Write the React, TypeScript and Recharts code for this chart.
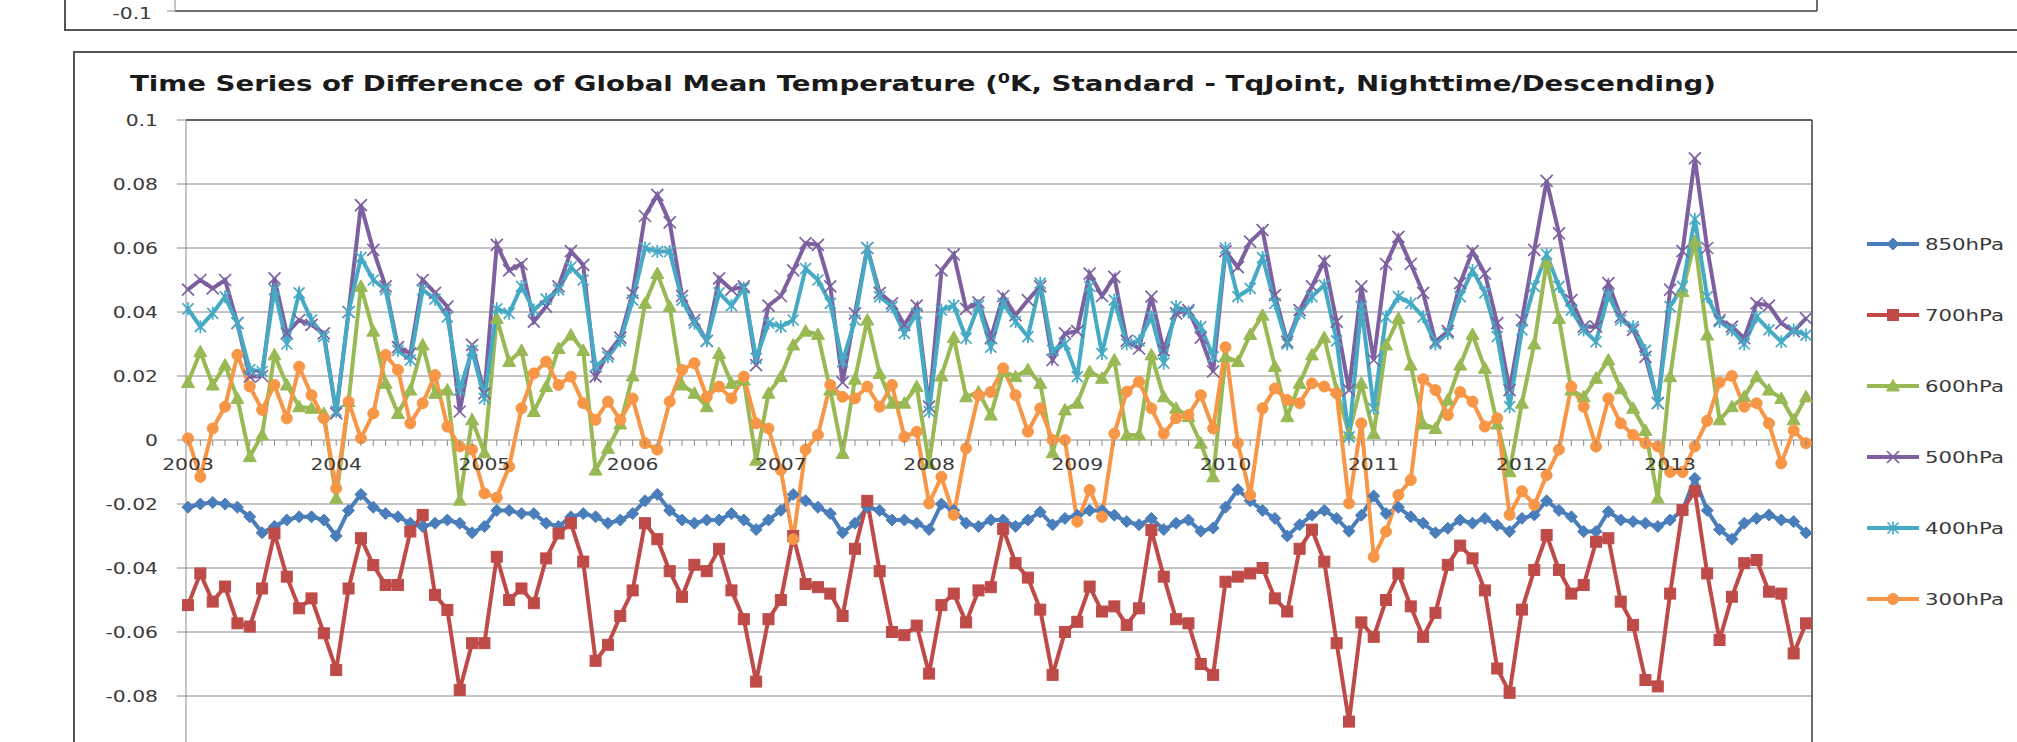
import React from "react";
import { LineChart, Line, XAxis, YAxis, CartesianGrid, Legend } from "recharts";

// ---------- data ----------
const years = ["2003", "2004", "2005", "2006", "2007", "2008", "2009", "2010", "2011", "2012", "2013"];
const monthNums = ["01", "02", "03", "04", "05", "06", "07", "08", "09", "10", "11", "12"];
const months = years.flatMap((y) => monthNums.map((m) => `${y}-${m}`));

const yTicks = [0.1, 0.08, 0.06, 0.04, 0.02, 0, -0.02, -0.04, -0.06, -0.08];
const topYTicks = [-0.1];

const seriesNames = ["850hPa", "700hPa", "600hPa", "500hPa", "400hPa", "300hPa"];

const t850 = [
  -0.021, -0.02, -0.0195, -0.02, -0.021, -0.024, -0.029, -0.027, -0.025, -0.024, -0.024, -0.025,
  -0.03, -0.022, -0.017, -0.021, -0.023, -0.024, -0.026, -0.027, -0.026, -0.025, -0.026, -0.029,
  -0.027, -0.022, -0.022, -0.023, -0.023, -0.026, -0.027, -0.024, -0.023, -0.024, -0.026, -0.025,
  -0.023, -0.019, -0.017, -0.022, -0.025, -0.026, -0.025, -0.025, -0.023, -0.025, -0.028, -0.025,
  -0.022, -0.017, -0.019, -0.021, -0.023, -0.029, -0.026, -0.021, -0.022, -0.025, -0.025, -0.026,
  -0.028, -0.02, -0.022, -0.026, -0.027, -0.025, -0.025, -0.027, -0.025, -0.0225, -0.0265, -0.0245,
  -0.0235, -0.022, -0.022, -0.0235, -0.0255, -0.0265, -0.0245, -0.028, -0.026, -0.025, -0.0285, -0.0275,
  -0.021, -0.0155, -0.019, -0.022, -0.0245, -0.03, -0.0265, -0.0235, -0.022, -0.0245, -0.0285, -0.0235,
  -0.0175, -0.023, -0.021, -0.024, -0.026, -0.029, -0.0276, -0.025, -0.026, -0.0245, -0.0266, -0.0286,
  -0.0245, -0.0234, -0.019, -0.022, -0.024, -0.0286, -0.0286, -0.0224, -0.025, -0.0255, -0.026, -0.027,
  -0.025, -0.022, -0.012, -0.022, -0.028, -0.031, -0.026, -0.0245, -0.0234, -0.025, -0.0255, -0.029,
];

const t700 = [
  -0.0516, -0.0417, -0.0505, -0.0458, -0.0573, -0.0583, -0.0464, -0.0292, -0.0427, -0.0526, -0.0495, -0.0604,
  -0.0719, -0.0464, -0.0307, -0.0391, -0.0453, -0.0453, -0.0286, -0.0234, -0.0484, -0.0531, -0.0781, -0.0635,
  -0.0635, -0.0365, -0.05, -0.0464, -0.051, -0.037, -0.0292, -0.026, -0.038, -0.069, -0.064, -0.055,
  -0.047, -0.026, -0.031, -0.041, -0.049, -0.039, -0.041, -0.034, -0.047, -0.056, -0.0755, -0.056,
  -0.05, -0.03, -0.045, -0.046, -0.048, -0.055, -0.034, -0.019, -0.041, -0.06, -0.061, -0.058,
  -0.073, -0.0516, -0.048, -0.057, -0.047, -0.046, -0.0278, -0.0385, -0.043, -0.053, -0.0734, -0.06,
  -0.0568, -0.0458, -0.0536, -0.052, -0.0578, -0.0526, -0.0281, -0.0427, -0.056, -0.0573, -0.07, -0.0734,
  -0.0443, -0.0427, -0.0417, -0.04, -0.0495, -0.0536, -0.034, -0.028, -0.038, -0.0635, -0.088, -0.057,
  -0.0615, -0.05, -0.0417, -0.052, -0.0615, -0.054, -0.039, -0.033, -0.037, -0.047, -0.0714, -0.079,
  -0.053, -0.0406, -0.0297, -0.0406, -0.048, -0.0453, -0.0318, -0.0307, -0.0505, -0.0578, -0.075, -0.077,
  -0.048, -0.0219, -0.016, -0.0417, -0.0625, -0.049, -0.0385, -0.0375, -0.0474, -0.048, -0.0667, -0.0573,
];

const t600 = [
  0.018, 0.0276, 0.0172, 0.0234, 0.013, -0.0052, 0.0016, 0.0266, 0.0172, 0.0104, 0.0099, 0.0083,
  -0.0182, 0.012, 0.048, 0.034, 0.0177, 0.0083, 0.0156, 0.0297, 0.0146, 0.0156, -0.0188, 0.0063,
  -0.004, 0.038, 0.0245, 0.028, 0.0089, 0.0167, 0.0286, 0.0328, 0.028, -0.0094, -0.0026, 0.005,
  0.02, 0.0427, 0.052, 0.0417, 0.0172, 0.0146, 0.0104, 0.027, 0.0177, 0.0187, -0.0063, 0.0146,
  0.0198, 0.0297, 0.034, 0.033, 0.0156, -0.0042, 0.019, 0.0375, 0.0208, 0.0115, 0.0115, 0.0167,
  -0.0073, 0.02, 0.032, 0.0135, 0.015, 0.0078, 0.0214, 0.0198, 0.022, 0.0177, -0.004, 0.0094,
  0.0115, 0.0214, 0.0193, 0.025, 0.0016, 0.0016, 0.0266, 0.0135, 0.0099, 0.0073, -0.001, -0.0115,
  0.026, 0.0245, 0.033, 0.039, 0.023, 0.0073, 0.0177, 0.0266, 0.032, 0.0156, 0.002, 0.0177,
  0.002, 0.0297, 0.038, 0.0234, 0.005, 0.0036, 0.0125, 0.0234, 0.033, 0.0224, 0.005, -0.0099,
  0.0115, 0.03, 0.0555, 0.038, 0.0156, 0.0135, 0.0193, 0.025, 0.016, 0.0099, 0.003, -0.0182,
  0.0198, 0.0464, 0.062, 0.0328, 0.0063, 0.0104, 0.0135, 0.0198, 0.0156, 0.013, 0.0063, 0.0135,
];

const t500 = [
  0.047, 0.05, 0.0474, 0.05, 0.0365, 0.0198, 0.02, 0.0505, 0.0333, 0.0375, 0.036, 0.0333,
  0.0083, 0.04, 0.0734, 0.0594, 0.048, 0.029, 0.027, 0.05, 0.046, 0.0417, 0.0089, 0.0297,
  0.0146, 0.061, 0.053, 0.055, 0.037, 0.0417, 0.048, 0.059, 0.0547, 0.0198, 0.027, 0.032,
  0.046, 0.07, 0.0766, 0.068, 0.045, 0.0375, 0.031, 0.0505, 0.047, 0.048, 0.0234, 0.042,
  0.045, 0.053, 0.0615, 0.061, 0.048, 0.018, 0.0396, 0.06, 0.046, 0.0427, 0.036, 0.042,
  0.0104, 0.053, 0.058, 0.041, 0.043, 0.0318, 0.045, 0.039, 0.0437, 0.048, 0.025, 0.0333,
  0.034, 0.052, 0.045, 0.051, 0.031, 0.0286, 0.0448, 0.028, 0.0396, 0.0406, 0.032, 0.0214,
  0.059, 0.054, 0.062, 0.0656, 0.0453, 0.0307, 0.0406, 0.048, 0.056, 0.037, 0.0156, 0.048,
  0.025, 0.055, 0.0635, 0.055, 0.046, 0.0307, 0.034, 0.049, 0.059, 0.052, 0.0365, 0.0156,
  0.0375, 0.0594, 0.081, 0.0646, 0.0437, 0.0354, 0.0354, 0.049, 0.0385, 0.0344, 0.026, 0.0115,
  0.047, 0.059, 0.088, 0.06, 0.0375, 0.0354, 0.0318, 0.0427, 0.042, 0.0365, 0.034, 0.038,
];

const t400 = [
  0.041, 0.0354, 0.0396, 0.0448, 0.0365, 0.022, 0.0214, 0.047, 0.03, 0.046, 0.0375, 0.0323,
  0.009, 0.04, 0.057, 0.05, 0.047, 0.028, 0.025, 0.047, 0.044, 0.0385, 0.0156, 0.028,
  0.013, 0.041, 0.0396, 0.048, 0.0406, 0.044, 0.047, 0.054, 0.05, 0.023, 0.026, 0.031,
  0.0437, 0.06, 0.0589, 0.0589, 0.0437, 0.0365, 0.031, 0.046, 0.042, 0.0474, 0.0255, 0.0365,
  0.0354, 0.0375, 0.0536, 0.05, 0.0427, 0.0245, 0.0375, 0.06, 0.0448, 0.0417, 0.0333, 0.0396,
  0.0089, 0.0406, 0.042, 0.0318, 0.042, 0.029, 0.0427, 0.037, 0.0323, 0.049, 0.028, 0.03,
  0.0198, 0.048, 0.027, 0.0437, 0.03, 0.031, 0.0385, 0.024, 0.0417, 0.04, 0.0354, 0.026,
  0.06, 0.0448, 0.0474, 0.057, 0.0427, 0.03, 0.0396, 0.0448, 0.0484, 0.031, 0.001, 0.0417,
  0.0099, 0.0385, 0.0448, 0.0427, 0.0385, 0.03, 0.0333, 0.0448, 0.053, 0.046, 0.0323, 0.0104,
  0.0344, 0.048, 0.058, 0.048, 0.0406, 0.0344, 0.0307, 0.0453, 0.0375, 0.0354, 0.028, 0.0115,
  0.0417, 0.048, 0.069, 0.0448, 0.037, 0.0344, 0.03, 0.0385, 0.0344, 0.0307, 0.0344, 0.0328,
];

const t300 = [
  0.0005, -0.0115, 0.0036, 0.0104, 0.0266, 0.0167, 0.0094, 0.0172, 0.0068, 0.0229, 0.014, 0.0068,
  -0.0151, 0.012, 0.0005, 0.0083, 0.0266, 0.0219, 0.0052, 0.0115, 0.0203, 0.0042, -0.002, -0.003,
  -0.0167, -0.018, -0.0083, 0.0099, 0.0208, 0.0245, 0.0172, 0.0198, 0.0115, 0.0063, 0.012, 0.0063,
  0.013, -0.001, -0.003, 0.012, 0.0219, 0.024, 0.0135, 0.0167, 0.013, 0.0198, 0.0052, 0.0036,
  -0.0094, -0.031, -0.003, 0.0016, 0.0172, 0.0135, 0.013, 0.0167, 0.0104, 0.0172, 0.001, 0.0026,
  -0.0198, -0.0115, -0.0234, -0.0026, 0.014, 0.015, 0.0224, 0.014, 0.0026, 0.0099, 0.0, 0.0,
  -0.0255, -0.0156, -0.024, 0.002, 0.0151, 0.0182, 0.0099, 0.002, 0.0068, 0.0078, 0.014, 0.0036,
  0.029, -0.001, -0.0172, 0.0099, 0.0161, 0.0125, 0.0115, 0.0177, 0.0167, 0.0146, -0.0198, 0.0052,
  -0.0365, -0.0286, -0.0172, -0.0125, 0.019, 0.0156, 0.0078, 0.015, 0.012, 0.0042, 0.0068, -0.0234,
  -0.016, -0.0203, -0.011, -0.003, 0.0167, 0.0104, -0.002, 0.013, 0.0052, 0.0016, -0.001, -0.002,
  -0.01, -0.01, -0.002, 0.006, 0.018, 0.02, 0.0104, 0.0115, 0.0052, -0.0073, 0.003, -0.001,
];

const seriesValues = [t850, t700, t600, t500, t400, t300];
const seriesColors = ["#4A7EBB", "#BE4B48", "#98B954", "#7D60A0", "#46AAC5", "#F79646"];
const seriesMarkers = ["diamond", "square", "triangle", "x", "star", "circle"];

const data = months.map((m, i) => {
  const row: Record<string, any> = { month: m };
  seriesNames.forEach((n, k) => {
    row[n] = seriesValues[k][i];
  });
  return row;
});

// ---------- styling ----------
const FONT = "'DejaVu Sans', 'Open Sans', sans-serif";
const TEXT_COLOR = "#3a3a3a";
const GRID_COLOR = "#8a8a8a";
const BORDER_COLOR = "#3f3f3f";
const STRETCH = 1.27;
const LINE_W = 4;

const MAIN_W = 2017;
const MAIN_H = 800;
const MAIN_MARGIN = { top: 120, right: 205, bottom: 0, left: 0 };
const X_AXIS_H = 40;
const PLOT_TOP = MAIN_MARGIN.top;
const PLOT_BOTTOM = MAIN_H - MAIN_MARGIN.bottom - X_AXIS_H;
const ZERO_Y = PLOT_TOP + (PLOT_BOTTOM - PLOT_TOP) / 2;

const TOP_H = 300;
const TOP_MARGIN = { top: 20, right: 200, bottom: 24, left: 0 };

const fmt = (v: number) => {
  const s = String(Number(v.toFixed(2)));
  return s === "-0" ? "0" : s;
};

function Marker({ shape, cx, cy, color, size = 1 }: any) {
  if (cx == null || cy == null || isNaN(cx) || isNaN(cy)) return <g />;
  const s = size;
  switch (shape) {
    case "diamond":
      return (
        <polygon
          points={`${cx},${cy - 6 * s} ${cx + 6 * s},${cy} ${cx},${cy + 6 * s} ${cx - 6 * s},${cy}`}
          fill={color}
          stroke={color}
          strokeWidth={1}
        />
      );
    case "square":
      return <rect x={cx - 5.5 * s} y={cy - 5.5 * s} width={11 * s} height={11 * s} fill={color} stroke={color} strokeWidth={1} />;
    case "triangle":
      return (
        <polygon
          points={`${cx},${cy - 6.5 * s} ${cx + 6.5 * s},${cy + 5 * s} ${cx - 6.5 * s},${cy + 5 * s}`}
          fill={color}
          stroke={color}
          strokeWidth={1}
        />
      );
    case "x":
      return (
        <path
          d={`M${cx - 6 * s},${cy - 6 * s}L${cx + 6 * s},${cy + 6 * s}M${cx - 6 * s},${cy + 6 * s}L${cx + 6 * s},${cy - 6 * s}`}
          stroke={color}
          strokeWidth={1.7}
          fill="none"
        />
      );
    case "star":
      return (
        <path
          d={`M${cx - 5.5 * s},${cy - 5.5 * s}L${cx + 5.5 * s},${cy + 5.5 * s}M${cx - 5.5 * s},${cy + 5.5 * s}L${cx + 5.5 * s},${cy - 5.5 * s}M${cx},${cy - 6.5 * s}L${cx},${cy + 6.5 * s}`}
          stroke={color}
          strokeWidth={1.7}
          fill="none"
        />
      );
    default:
      return <circle cx={cx} cy={cy} r={5.5 * s} fill={color} stroke={color} strokeWidth={1} />;
  }
}

const makeDot = (shape: string, color: string) => (props: any) =>
  <Marker key={`dot-${shape}-${props.index}`} shape={shape} cx={props.cx} cy={props.cy} color={color} />;

function StretchText({ x, y, anchor, children, size = 16, weight = "normal" }: any) {
  return (
    <text
      transform={`translate(${x} ${y}) scale(${STRETCH} 1)`}
      textAnchor={anchor}
      fontFamily={FONT}
      fontSize={size}
      fontWeight={weight}
      fill={TEXT_COLOR}
    >
      {children}
    </text>
  );
}

const renderYTick = (props: any) => {
  const { x, y, payload } = props;
  return (
    <StretchText x={x} y={y + 6} anchor="end">
      {fmt(payload.value)}
    </StretchText>
  );
};

const renderTopYTick = (props: any) => {
  const { x, y, payload } = props;
  return (
    <StretchText x={x} y={y + 8} anchor="end">
      {fmt(payload.value)}
    </StretchText>
  );
};

const renderXTick = (props: any) => {
  const { x, payload } = props;
  const label: string = payload.value;
  const isYear = label.endsWith("-01");
  return (
    <g>
      <line x1={x} x2={x} y1={ZERO_Y} y2={ZERO_Y + 6} stroke={GRID_COLOR} strokeWidth={1} />
      {isYear ? (
        <StretchText x={x} y={ZERO_Y + 30} anchor="middle">
          {label.slice(0, 4)}
        </StretchText>
      ) : null}
    </g>
  );
};

const renderLegend = (props: any) => {
  const payload = [...(props.payload || [])].sort(
    (a: any, b: any) => seriesNames.indexOf(a.value) - seriesNames.indexOf(b.value)
  );
  return (
    <div style={{ display: "flex", flexDirection: "column" }}>
      {payload.map((entry: any) => {
        const k = seriesNames.indexOf(entry.value);
        if (k < 0) return null;
        const color = seriesColors[k];
        return (
          <div key={entry.value} style={{ height: 71, display: "flex", alignItems: "center" }}>
            <svg width={58} height={20} style={{ display: "block" }}>
              <line x1={2} x2={54} y1={10} y2={10} stroke={color} strokeWidth={LINE_W} />
              <Marker shape={seriesMarkers[k]} cx={28} cy={10} color={color} />
            </svg>
            <span
              style={{
                fontFamily: FONT,
                fontSize: 16,
                color: TEXT_COLOR,
                marginLeft: 2,
                display: "inline-block",
                transform: "scaleX(1.33)",
                transformOrigin: "left center",
                whiteSpace: "nowrap",
              }}
            >
              {entry.value}
            </span>
          </div>
        );
      })}
    </div>
  );
};

export default function App() {
  return (
    <div
      style={{
        position: "absolute",
        left: 0,
        top: 0,
        width: 2017,
        height: 742,
        overflow: "hidden",
        background: "#ffffff",
      }}
    >
      {/* remnant of the chart above: its frame and the bottom of its plot */}
      <div
        style={{
          position: "absolute",
          left: 64,
          top: -12,
          width: 2100,
          height: 42.5,
          boxSizing: "border-box",
          border: "2px solid #555555",
        }}
      />
      <div style={{ position: "absolute", left: 0, top: 11 - (TOP_H - TOP_MARGIN.bottom) }}>
        <LineChart width={2017} height={TOP_H} data={data} margin={TOP_MARGIN}>
          <XAxis dataKey="month" hide />
          <YAxis
            type="number"
            domain={[-0.1, 0.1]}
            allowDataOverflow
            ticks={topYTicks}
            interval={0}
            width={175}
            tickSize={8}
            tickMargin={15}
            tick={renderTopYTick}
            axisLine={{ stroke: GRID_COLOR }}
            tickLine={{ stroke: GRID_COLOR }}
          />
          <CartesianGrid
            stroke={BORDER_COLOR}
            strokeWidth={1.5}
            horizontalCoordinatesGenerator={({ offset }: any) => [offset.top + offset.height]}
            verticalCoordinatesGenerator={({ offset }: any) => [offset.left + offset.width]}
          />
          {/* the upper chart's series lie above the visible strip; an empty key keeps its axes registered */}
          <Line
            dataKey="upperChartHidden"
            stroke="none"
            dot={false}
            activeDot={false}
            legendType="none"
            isAnimationActive={false}
          />
        </LineChart>
      </div>

      {/* frame of this chart */}
      <div
        style={{
          position: "absolute",
          left: 73,
          top: 51,
          width: 2100,
          height: 800,
          boxSizing: "border-box",
          border: "2px solid #555555",
        }}
      />

      {/* title */}
      <svg style={{ position: "absolute", left: 0, top: 0 }} width={2017} height={110}>
        <text
          x={130}
          y={91}
          fontFamily={FONT}
          fontWeight="bold"
          fontSize={22}
          fill="#1a1a1a"
          textLength={1586}
          lengthAdjust="spacingAndGlyphs"
        >
          Time Series of Difference of Global Mean Temperature (
          <tspan dy={-8} fontSize={14}>
            0
          </tspan>
          <tspan dy={8}>K, Standard - TqJoint, Nighttime/Descending)</tspan>
        </text>
      </svg>

      <div style={{ position: "absolute", left: 0, top: 0 }}>
        <LineChart width={MAIN_W} height={MAIN_H} data={data} margin={MAIN_MARGIN}>
          <CartesianGrid vertical={false} stroke={GRID_COLOR} strokeWidth={1} />
          <CartesianGrid
            stroke={BORDER_COLOR}
            strokeWidth={1.5}
            horizontalCoordinatesGenerator={({ offset }: any) => [offset.top]}
            verticalCoordinatesGenerator={({ offset }: any) => [offset.left + offset.width]}
          />
          <XAxis
            dataKey="month"
            interval={0}
            height={X_AXIS_H}
            tick={renderXTick}
            tickLine={false}
            axisLine={false}
            padding={{ left: 2, right: 6 }}
          />
          <YAxis
            type="number"
            domain={[-0.1, 0.1]}
            ticks={yTicks}
            interval={0}
            width={186}
            tickSize={9}
            tickMargin={19}
            tick={renderYTick}
            axisLine={{ stroke: GRID_COLOR }}
            tickLine={{ stroke: GRID_COLOR }}
          />
          <Legend
            layout="vertical"
            align="center"
            verticalAlign="middle"
            content={renderLegend}
            wrapperStyle={{ position: "absolute", left: 1865, top: 208.5, width: 160 }}
          />
          {seriesNames.map((n, k) => (
            <Line
              key={n}
              type="linear"
              dataKey={n}
              name={n}
              stroke={seriesColors[k]}
              strokeWidth={LINE_W}
              dot={makeDot(seriesMarkers[k], seriesColors[k])}
              activeDot={false}
              isAnimationActive={false}
            />
          ))}
        </LineChart>
      </div>
    </div>
  );
}
